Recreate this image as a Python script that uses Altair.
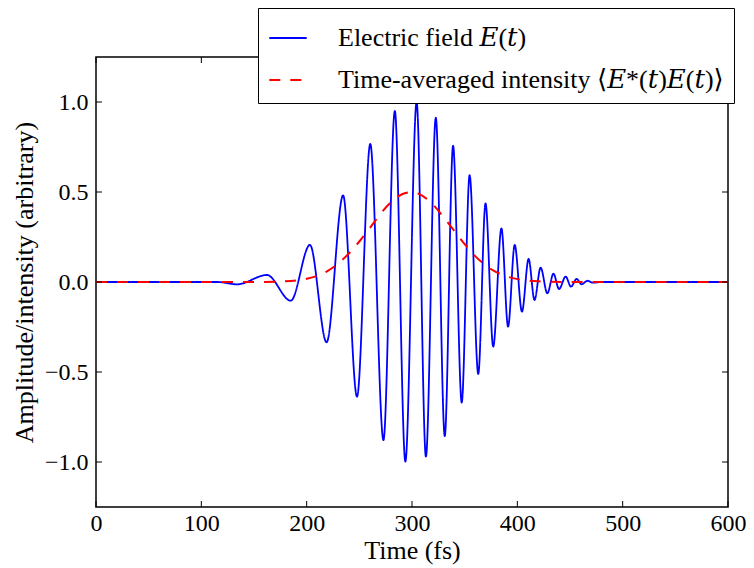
import altair as alt
import pandas as pd

# ---- data ----
field_t = [0, 115, 134, 162.3, 184.9, 203.1, 218.9, 234.6, 247.8, 260.4, 272.9, 283.7,
           293.7, 304.4, 313.2, 322.6, 331.1, 339.0, 347.2, 354.7, 362.9, 369.8, 377.1,
           384.9, 391.2, 397.5, 404.4, 410.7, 416.3, 422.1, 428.5, 434.3, 439.6, 445.9,
           450.9, 456.3, 461.0, 466.6, 471.7, 480, 600]
field_v = [0, 0, -0.013, 0.039, -0.104, 0.206, -0.335, 0.481, -0.637, 0.767, -0.878, 0.95,
           -0.998, 1.0, -0.97, 0.913, -0.856, 0.757, -0.67, 0.594, -0.511, 0.437, -0.359,
           0.298, -0.248, 0.206, -0.165, 0.128, -0.1, 0.08, -0.063, 0.046, -0.039, 0.03,
           -0.026, 0.017, -0.013, 0.007, -0.004, 0, 0]

env_t = [0, 120, 150, 170, 190, 200, 210, 220, 230, 240, 250, 260, 270, 280, 290, 300,
         310, 320, 330, 340, 350, 360, 370, 380, 390, 400, 410, 420, 430, 450, 480, 600]
env_v = [0, 0, 0.0, 0.002, 0.008, 0.018, 0.034, 0.062, 0.103, 0.158, 0.225, 0.300, 0.378,
         0.443, 0.486, 0.5, 0.478, 0.43, 0.36, 0.285, 0.21, 0.144, 0.092, 0.055, 0.031,
         0.016, 0.008, 0.004, 0.002, 0, 0, 0]

series_names = ["Electric field 𝐸(𝑡)", "Time-averaged intensity ⟨𝐸*(𝑡)𝐸(𝑡)⟩"]
x_ticks = [0, 100, 200, 300, 400, 500, 600]
y_ticks = [-1.0, -0.5, 0.0, 0.5, 1.0]

FONT = "Liberation Serif, DejaVu Serif, serif"
FS_LABEL = 24
FS_TITLE = 26
W, H = 632, 450
TL = 6  # inward tick length

df_field = pd.DataFrame({"t": field_t, "v": field_v, "series": series_names[0]})
df_env = pd.DataFrame({"t": env_t, "v": env_v, "series": series_names[1]})
df_xt = pd.DataFrame({"t": x_ticks})
df_yt = pd.DataFrame({"v": y_ticks})

x_scale = alt.Scale(domain=[0, 600], nice=False, zero=False)
y_scale = alt.Scale(domain=[-1.25, 1.25], nice=False, zero=False)

x_axis = alt.Axis(values=x_ticks, format="d", title="Time (fs)", grid=False, ticks=False,
                  domain=False, labelFont=FONT, labelFontSize=FS_LABEL, labelPadding=4,
                  labelFlush=False, labelOverlap=False,
                  labelColor="black", titleFont=FONT, titleFontSize=FS_TITLE,
                  titleFontWeight="normal", titleColor="black", titlePadding=2)
y_axis = alt.Axis(values=y_ticks, format=".1f", title="Amplitude/intensity (arbitrary)",
                  grid=False, ticks=False, domain=False, labelFont=FONT, labelFontSize=FS_LABEL,
                  labelPadding=8, labelFlush=False, labelColor="black", titleFont=FONT,
                  titleFontSize=FS_TITLE, titleFontWeight="normal", titleColor="black",
                  titlePadding=7)

leg = alt.Legend(title=None, orient="none", legendX=162, legendY=-49,
                 labelFont=FONT, labelFontSize=FS_TITLE, labelColor="black", labelLimit=1000,
                 symbolType="stroke", symbolSize=1400, symbolStrokeWidth=2,
                 labelOffset=30, rowPadding=9, padding=10,
                 strokeColor="black", fillColor="white", cornerRadius=0)

color = alt.Color("series:N", scale=alt.Scale(domain=series_names, range=["#0000ff", "#ff0000"]),
                  legend=leg)
dash = alt.StrokeDash("series:N", scale=alt.Scale(domain=series_names, range=[[1, 0], [11, 10]]),
                      legend=leg)

X = alt.X("t:Q", scale=x_scale, axis=x_axis)
Y = alt.Y("v:Q", scale=y_scale, axis=y_axis)

field_line = alt.Chart(df_field).mark_line(interpolate="monotone", strokeWidth=1.8).encode(
    x=X, y=Y, color=color, strokeDash=dash)
env_line = alt.Chart(df_env).mark_line(interpolate="monotone", strokeWidth=2).encode(
    x=X, y=Y, color=color, strokeDash=dash)

tick_bottom = alt.Chart(df_xt).mark_rule(color="black", strokeWidth=1).encode(
    x=X, y=alt.value(H), y2=alt.value(H - TL))
tick_top = alt.Chart(df_xt).mark_rule(color="black", strokeWidth=1).encode(
    x=X, y=alt.value(0), y2=alt.value(TL))
tick_left = alt.Chart(df_yt).mark_rule(color="black", strokeWidth=1).encode(
    y=Y, x=alt.value(0), x2=alt.value(TL))
tick_right = alt.Chart(df_yt).mark_rule(color="black", strokeWidth=1).encode(
    y=Y, x=alt.value(W), x2=alt.value(W - TL))

chart = alt.layer(field_line, env_line, tick_bottom, tick_top, tick_left, tick_right).properties(
    width=W, height=H,
    autosize=alt.AutoSizeParams(type="none"),
    padding={"left": 88, "top": 49, "right": 18, "bottom": 58},
    background="white",
).configure_view(stroke="black", strokeWidth=1.5)

chart.save("out.html", embed_options={"renderer": "svg", "actions": False})
